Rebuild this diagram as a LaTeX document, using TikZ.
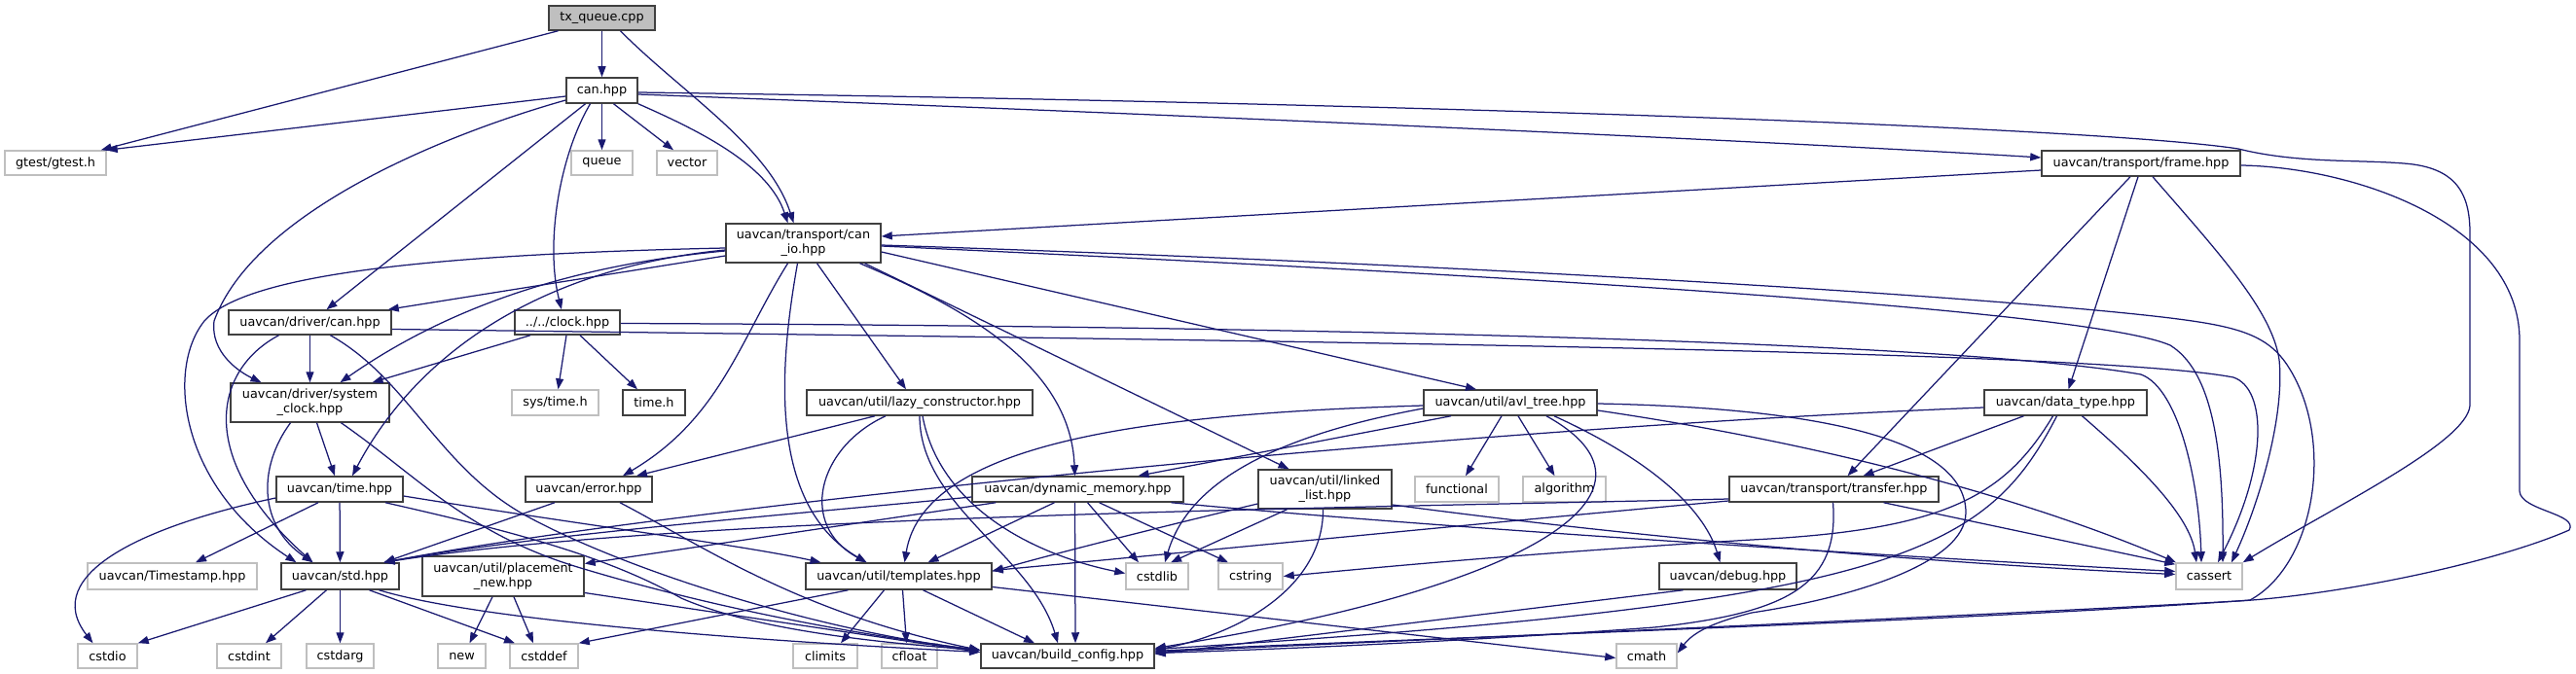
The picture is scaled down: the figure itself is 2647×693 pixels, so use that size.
\documentclass[tikz,border=0pt]{standalone}
\usepackage{fontspec}
\setmainfont{DejaVu Sans}
\usetikzlibrary{arrows.meta,calc}
\definecolor{edgec}{HTML}{191970}
\definecolor{ggray}{HTML}{BFBFBF}
\definecolor{bdark}{HTML}{404040}
\tikzset{
  nb/.style={draw=bdark, line width=1.5pt, fill=white, inner sep=0pt, align=center,
    font=\fontsize{12.8}{15}\selectfont},
  ng/.style={nb, draw=ggray},
  e/.style={draw=edgec, line width=1.25pt, -{Triangle[length=11pt,width=8pt]}},
}
\begin{document}
\begin{tikzpicture}[x=1pt,y=-1pt]
\useasboundingbox (0,0) rectangle (2647,693);
% ---------- nodes ----------
\node[nb, fill=ggray, minimum width=109, minimum height=25] (tx) at (618.5,18.5) {tx\_queue.cpp};
\node[nb, minimum width=73, minimum height=26] (can) at (618.5,93) {can.hpp};
\node[ng, minimum width=104, minimum height=25] (gtest) at (57,167.5) {gtest/gtest.h};
\node[ng, minimum width=63, minimum height=25] (queue) at (618.5,167.5) {queue};
\node[ng, minimum width=62, minimum height=25] (vector) at (706,167.5) {vector};
\node[nb, minimum width=204, minimum height=26] (frame) at (2200,168) {uavcan/transport/frame.hpp};
\node[nb, minimum width=159, minimum height=40] (can_io) at (825.5,250) {uavcan/transport/can\\\_io.hpp};
\node[nb, minimum width=167, minimum height=25] (drvcan) at (318.5,331.5) {uavcan/driver/can.hpp};
\node[nb, minimum width=108, minimum height=25] (clock) at (583,331.5) {../../clock.hpp};
\node[nb, minimum width=163, minimum height=40] (sysclock) at (318.5,414) {uavcan/driver/system\\\_clock.hpp};
\node[ng, minimum width=89, minimum height=26] (systime) at (570.5,414) {sys/time.h};
\node[nb, minimum width=64, minimum height=26] (timeh) at (672,414) {time.h};
\node[nb, minimum width=232, minimum height=26] (lazy) at (945,414) {uavcan/util/lazy\_constructor.hpp};
\node[nb, minimum width=178, minimum height=26] (avl) at (1552,414) {uavcan/util/avl\_tree.hpp};
\node[nb, minimum width=167, minimum height=26] (datatype) at (2122.5,414) {uavcan/data\_type.hpp};
\node[nb, minimum width=130, minimum height=26] (time) at (349,503) {uavcan/time.hpp};
\node[nb, minimum width=130, minimum height=26] (error) at (605,503) {uavcan/error.hpp};
\node[nb, minimum width=217, minimum height=26] (dynmem) at (1107.5,503) {uavcan/dynamic\_memory.hpp};
\node[nb, minimum width=137, minimum height=40] (linked) at (1361.5,503) {uavcan/util/linked\\\_list.hpp};
\node[ng, minimum width=86, minimum height=26] (functional) at (1497,503) {functional};
\node[ng, minimum width=85, minimum height=26] (algorithm) at (1607.5,503) {algorithm};
\node[nb, minimum width=215, minimum height=26] (transfer) at (1884.5,503) {uavcan/transport/transfer.hpp};
\node[ng, minimum width=174, minimum height=27] (Timestamp) at (177,592.5) {uavcan/Timestamp.hpp};
\node[nb, minimum width=121, minimum height=27] (std) at (349.5,592.5) {uavcan/std.hpp};
\node[nb, minimum width=166, minimum height=41] (placement) at (517,592.5) {uavcan/util/placement\\\_new.hpp};
\node[nb, minimum width=191, minimum height=27] (templates) at (923.5,592.5) {uavcan/util/templates.hpp};
\node[ng, minimum width=64, minimum height=27] (cstdlib) at (1189,592.5) {cstdlib};
\node[ng, minimum width=66, minimum height=27] (cstring) at (1285,592.5) {cstring};
\node[nb, minimum width=141, minimum height=27] (debug) at (1775.5,592.5) {uavcan/debug.hpp};
\node[ng, minimum width=68, minimum height=27] (cassert) at (2270,592.5) {cassert};
\node[ng, minimum width=61, minimum height=25] (cstdio) at (110.5,674.5) {cstdio};
\node[ng, minimum width=66, minimum height=25] (cstdint) at (256,674.5) {cstdint};
\node[ng, minimum width=69, minimum height=25] (cstdarg) at (349.5,674.5) {cstdarg};
\node[ng, minimum width=49, minimum height=25] (new) at (474.5,674.5) {new};
\node[ng, minimum width=70, minimum height=25] (cstddef) at (559,674.5) {cstddef};
\node[ng, minimum width=66, minimum height=25] (climits) at (848,674.5) {climits};
\node[ng, minimum width=57, minimum height=25] (cfloat) at (934.5,674.5) {cfloat};
\node[nb, minimum width=178, minimum height=25] (build) at (1097,674.5) {uavcan/build\_config.hpp};
\node[ng, minimum width=62, minimum height=25] (cmath) at (1692,674.5) {cmath};
% ---------- edges ----------
% tx_queue.cpp
\draw[e] ($(tx.south)+(-45,0)$) -- ($(gtest.north east)+(-6,0)$);
\draw[e] (tx) -- (can);
\draw[e] ($(tx.south)+(19,0)$) .. controls (700,95) and (790,150) .. ($(can_io.north)+(-10,0)$);
% can.hpp
\draw[e] ($(can.west)+(0,6)$) -- (gtest.north east);
\draw[e] (can) -- (queue);
\draw[e] ($(can.south)+(12,0)$) -- ($(vector.north)+(-14,0)$);
\draw[e] (can.south east) .. controls (720,135) and (790,170) .. ($(can_io.north)+(-16,0)$);
\draw[e] ($(can.south)+(-17,0)$) -- ($(drvcan.north)+(17,0)$);
\draw[e] ($(can.south)+(-12,0)$) .. controls (575,160) and (560,250) .. ($(clock.north)+(-6,0)$);
\draw[e] ($(can.west)+(0,10)$) .. controls (450,140) and (260,220) .. (220,330) .. controls (216,362) and (245,382) .. ($(sysclock.north)+(-50,0)$);
\draw[e] ($(can.east)+(0,4)$) .. controls (1400,125) and (1900,150) .. ($(frame.west)+(0,-6)$);
\draw[e] ($(can.east)+(0,2)$) .. controls (1400,105) and (2150,130) .. (2300,153) .. controls (2360,168) and (2420,164) .. (2470,168) .. controls (2525,172) and (2538,200) .. (2538,240) -- (2538,417) .. controls (2535,455) and (2400,520) .. (cassert.north east);
% frame.hpp
\draw[e] ($(frame.west)+(0,7)$) -- ($(can_io.east)+(0,-7)$);
\draw[e] ($(frame.south)+(-11,0)$) -- ($(transfer.north)+(14,0)$);
\draw[e] ($(frame.south)+(-3,0)$) -- ($(datatype.north)+(3,0)$);
\draw[e] ($(frame.south)+(12,0)$) .. controls (2280,260) and (2335,320) .. (2342,370) .. controls (2348,430) and (2320,520) .. ($(cassert.north)+(23,0)$);
\draw[e] ($(frame.east)+(0,2)$) .. controls (2420,172) and (2589,230) .. (2589,350) -- (2589,505) .. controls (2590,525) and (2650,528) .. (2640,545) .. controls (2560,580) and (2400,612) .. (2300,618) .. controls (1900,640) and (1400,660) .. ($(build.east)+(0,-4)$);
% can_io.hpp
\draw[e] ($(can_io.west)+(0,5)$) .. controls (420,262) and (250,285) .. (210,330) .. controls (170,380) and (185,500) .. ($(std.north)+(-45,0)$);
\draw[e] ($(can_io.west)+(0,13)$) -- ($(drvcan.north east)+(-4,0)$);
\draw[e] ($(can_io.west)+(0,8)$) .. controls (560,275) and (440,330) .. ($(sysclock.north)+(31,0)$);
\draw[e] ($(can_io.west)+(0,7)$) .. controls (560,275) and (430,360) .. ($(time.north)+(13,0)$);
\draw[e] ($(can_io.south)+(-16,0)$) .. controls (760,350) and (740,430) .. ($(error.north)+(35,0)$);
\draw[e] ($(can_io.south)+(-6,0)$) .. controls (800,380) and (790,520) .. ($(templates.north)+(-33,0)$);
\draw[e] ($(can_io.south)+(14,0)$) -- ($(lazy.north)+(-14,0)$);
\draw[e] ($(can_io.south)+(58,0)$) .. controls (1000,320) and (1100,380) .. ($(dynmem.north)+(-3,0)$);
\draw[e] ($(can_io.south)+(63,0)$) -- ($(linked.north)+(-37,0)$);
\draw[e] ($(can_io.east)+(0,9)$) -- ($(avl.north)+(-35,0)$);
\draw[e] ($(can_io.east)+(0,3)$) .. controls (1600,285) and (2150,320) .. (2230,355) .. controls (2270,380) and (2285,450) .. ($(cassert.north)+(14,0)$);
\draw[e] ($(can_io.east)+(0,2)$) .. controls (1600,275) and (2100,310) .. (2238,328) .. controls (2300,336) and (2330,345) .. (2350,375) .. controls (2400,450) and (2380,580) .. (2312,617) .. controls (2000,640) and (1400,658) .. ($(build.east)+(0,-5)$);
% driver/can.hpp
\draw[e] (drvcan) -- (sysclock);
\draw[e] ($(drvcan.south)+(-32,0)$) .. controls (220,380) and (200,470) .. ($(std.north)+(-28,0)$);
\draw[e] ($(drvcan.south)+(21,0)$) .. controls (420,390) and (450,480) .. (540,530) .. controls (650,590) and (850,650) .. ($(build.west)+(0,-6)$);
\draw[e] ($(drvcan.east)+(0,7)$) .. controls (1300,350) and (2150,360) .. (2295,388) .. controls (2330,400) and (2330,480) .. ($(cassert.north)+(9,0)$);
% clock.hpp
\draw[e] ($(clock.east)+(0,1)$) .. controls (1300,335) and (2000,350) .. (2200,385) .. controls (2240,400) and (2260,500) .. ($(cassert.north)+(-8,0)$);
\draw[e] ($(clock.south)+(-38,0)$) -- ($(sysclock.north)+(64,0)$);
\draw[e] ($(clock.south)+(-1,0)$) -- ($(systime.north)+(3,0)$);
\draw[e] ($(clock.south)+(13,0)$) -- ($(timeh.north)+(-17,0)$);
% system_clock.hpp
\draw[e] ($(sysclock.south)+(7,0)$) -- ($(time.north)+(-5,0)$);
\draw[e] ($(sysclock.south)+(-20,0)$) .. controls (265,480) and (265,540) .. ($(std.north)+(-28,0)$);
\draw[e] ($(sysclock.south)+(32,0)$) .. controls (430,490) and (480,550) .. (600,585) .. controls (750,630) and (900,655) .. ($(build.west)+(0,-6)$);
% time.hpp
\draw[e] (time) -- (std);
\draw[e] ($(time.west)+(0,9)$) .. controls (150,540) and (40,590) .. ($(cstdio.north)+(-15,0)$);
\draw[e] ($(time.south)+(-22,0)$) -- ($(Timestamp.north)+(24,0)$);
\draw[e] ($(time.east)+(0,7)$) .. controls (600,540) and (760,560) .. ($(templates.north)+(-80,0)$);
\draw[e] ($(time.south)+(47,0)$) .. controls (520,545) and (620,570) .. (700,615) .. controls (780,650) and (920,662) .. ($(build.west)+(0,-6)$);
% error.hpp
\draw[e] ($(error.south)+(-35,0)$) -- ($(std.north)+(45,0)$);
\draw[e] ($(error.south)+(32,0)$) .. controls (720,560) and (820,630) .. ($(build.west)+(0,-6)$);
% lazy_constructor.hpp
\draw[e] ($(lazy.south)+(-46,0)$) -- ($(error.north)+(49,0)$);
\draw[e] ($(lazy.south)+(-35,0)$) .. controls (840,460) and (820,540) .. ($(templates.north)+(-33,0)$);
\draw[e] (lazy.south) .. controls (945,520) and (1060,570) .. ($(build.north)+(-10,0)$);
\draw[e] ($(lazy.south)+(3,0)$) .. controls (965,520) and (1060,570) .. ($(cstdlib.west)+(0,-3)$);
% dynamic_memory.hpp
\draw[e] ($(dynmem.west)+(0,8)$) .. controls (800,530) and (550,550) .. ($(std.north)+(45,0)$);
\draw[e] ($(dynmem.south west)+(25,0)$) -- ($(placement.east)+(0,-13)$);
\draw[e] ($(dynmem.south)+(-24,0)$) -- ($(templates.north)+(30,0)$);
\draw[e] ($(dynmem.south)+(-3,0)$) -- ($(build.north)+(8,0)$);
\draw[e] ($(dynmem.south)+(10,0)$) -- ($(cstdlib.north)+(-19,0)$);
\draw[e] ($(dynmem.south)+(22,0)$) -- ($(cstring.north)+(-23,0)$);
\draw[e] ($(dynmem.south)+(96,0)$) .. controls (1500,545) and (2000,575) .. ($(cassert.west)+(0,-5)$);
% linked_list.hpp
\draw[e] ($(linked.west)+(0,15)$) .. controls (1200,540) and (1080,570) .. ($(templates.east)+(0,-5)$);
\draw[e] ($(linked.south)+(-39,0)$) -- ($(cstdlib.north)+(14,0)$);
\draw[e] ($(linked.south)+(-2,0)$) .. controls (1360,600) and (1280,650) .. ($(build.east)+(0,-6)$);
\draw[e] ($(linked.east)+(0,16)$) .. controls (1700,555) and (2000,580) .. ($(cassert.west)+(0,-2)$);
% avl_tree.hpp
\draw[e] ($(avl.south)+(-9,0)$) -- ($(functional.north)+(9,0)$);
\draw[e] ($(avl.south)+(8,0)$) -- ($(algorithm.north)+(-10,0)$);
\draw[e] ($(avl.south)+(-61,0)$) -- ($(dynmem.north)+(62,0)$);
\draw[e] ($(avl.west)+(0,3)$) .. controls (1200,425) and (950,450) .. ($(templates.north)+(6,0)$);
\draw[e] ($(avl.west)+(0,6)$) .. controls (1300,450) and (1220,500) .. ($(cstdlib.north)+(8,0)$);
\draw[e] ($(avl.south)+(37,0)$) .. controls (1720,500) and (1600,600) .. ($(build.east)+(0,-8)$);
\draw[e] ($(avl.south)+(45,0)$) .. controls (1690,470) and (1750,520) .. ($(debug.north)+(-8,0)$);
\draw[e] ($(avl.east)+(0,8)$) .. controls (1900,460) and (2100,520) .. ($(cassert.north)+(-34,0)$);
\draw[e] ($(avl.east)+(0,1)$) .. controls (1900,420) and (2020,460) .. (2020,527) .. controls (2020,580) and (1900,615) .. (1800,630) .. controls (1760,640) and (1740,650) .. ($(cmath.east)+(0,-3)$);
% data_type.hpp
\draw[e] ($(datatype.south)+(-43,0)$) -- ($(transfer.north)+(30,0)$);
\draw[e] ($(datatype.west)+(0,5)$) .. controls (1500,440) and (700,520) .. ($(std.north)+(45,0)$);
\draw[e] ($(datatype.south)+(-13,0)$) .. controls (2060,510) and (2000,545) .. (1800,555) .. controls (1550,570) and (1400,585) .. (cstring.east);
\draw[e] ($(datatype.south)+(-9,0)$) .. controls (2040,570) and (1950,620) .. ($(build.east)+(0,-7)$);
\draw[e] ($(datatype.south)+(17,0)$) .. controls (2200,480) and (2250,530) .. ($(cassert.north)+(-13,0)$);
% transfer.hpp
\draw[e] ($(transfer.west)+(0,10)$) .. controls (1400,522) and (700,530) .. ($(std.north)+(45,0)$);
\draw[e] ($(transfer.west)+(0,12)$) .. controls (1500,540) and (1200,570) .. ($(templates.east)+(0,-6)$);
\draw[e] ($(transfer.south)+(-1,0)$) .. controls (1890,600) and (1840,630) .. (1700,645) .. controls (1500,660) and (1300,668) .. ($(build.east)+(0,-3)$);
\draw[e] ($(transfer.south)+(51,0)$) -- ($(cassert.north west)+(0,2)$);
% debug.hpp
\draw[e] ($(debug.south)+(-46,0)$) -- ($(build.east)+(0,-2)$);
% std.hpp
\draw[e] ($(std.south)+(-35,0)$) -- (cstdio.north east);
\draw[e] ($(std.south)+(-14,0)$) -- ($(cstdint.north)+(17,0)$);
\draw[e] (std) -- (cstdarg);
\draw[e] ($(std.south)+(30,0)$) -- ($(cstddef.north)+(-30,0)$);
\draw[e] ($(std.south)+(40,0)$) .. controls (500,640) and (800,660) .. ($(build.west)+(0,-4)$);
% placement_new.hpp
\draw[e] ($(placement.south)+(-11,0)$) -- ($(new.north)+(8,0)$);
\draw[e] ($(placement.south)+(11,0)$) -- ($(cstddef.north)+(-11,0)$);
\draw[e] ($(placement.east)+(0,17)$) -- ($(build.west)+(0,-4)$);
% templates.hpp
\draw[e] ($(templates.south)+(-52,0)$) -- (cstddef.north east);
\draw[e] ($(templates.south)+(-15,0)$) -- ($(climits.north)+(16,0)$);
\draw[e] ($(templates.south)+(4,0)$) -- ($(cfloat.north)+(-3,0)$);
\draw[e] ($(templates.south)+(25,0)$) -- ($(build.north)+(-34,0)$);
\draw[e] ($(templates.east)+(0,11)$) -- ($(cmath.west)+(0,2)$);
\end{tikzpicture}
\end{document}
